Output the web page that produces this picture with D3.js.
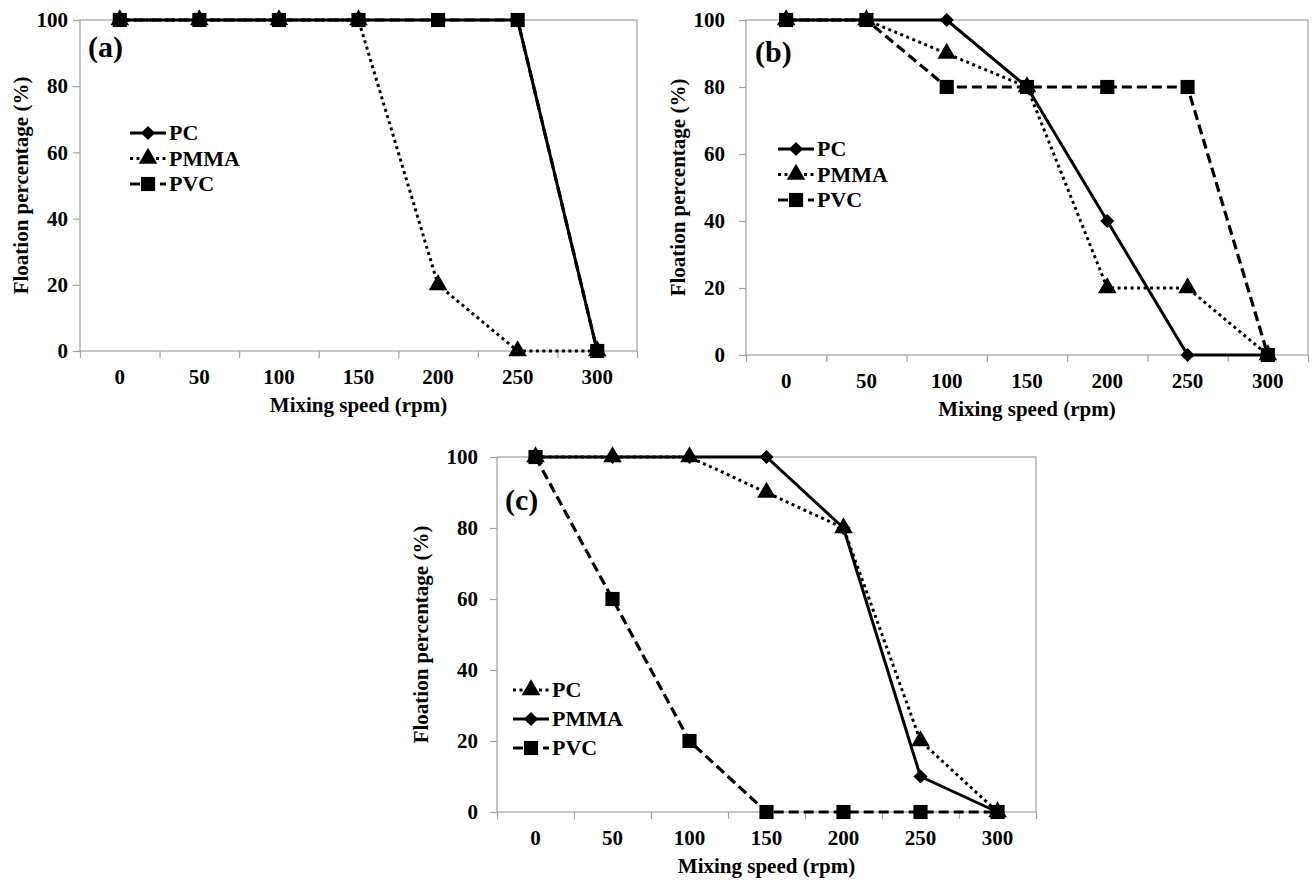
<!DOCTYPE html>
<html>
<head>
<meta charset="utf-8">
<script src="https://cdn.jsdelivr.net/npm/d3@7"></script>
<style>
  body { margin: 0; background: #fff; }
</style>
</head>
<body>
<div id="chart"></div>
<script>
// ---- data ----
const speeds = ["0", "50", "100", "150", "200", "250", "300"];
const yTickValues = [0, 20, 40, 60, 80, 100];

const aPC   = [100, 100, 100, 100, 100, 100, 0];
const aPMMA = [100, 100, 100, 100, 20, 0, 0];
const aPVC  = [100, 100, 100, 100, 100, 100, 0];

const bPC   = [100, 100, 100, 80, 40, 0, 0];
const bPMMA = [100, 100, 90, 80, 20, 20, 0];
const bPVC  = [100, 100, 80, 80, 80, 80, 0];

const cPC   = [100, 100, 100, 90, 80, 20, 0];
const cPMMA = [100, 100, 100, 100, 80, 10, 0];
const cPVC  = [100, 60, 20, 0, 0, 0, 0];

const xTitle = "Mixing speed (rpm)";
const yTitle = "Floation percentage (%)";

// ---- styles ----
const FONT = "'Liberation Serif', 'Times New Roman', serif";
const styles = {
  solid:  { dash: null,  width: 3, marker: "diamond" },
  dotted: { dash: "3,3.5", width: 3, marker: "triangle" },
  dashed: { dash: "10,5", width: 3.2, marker: "square" }
};

const W = 1314, H = 880;
const svg = d3.select("#chart").append("svg")
  .attr("width", W).attr("height", H)
  .attr("font-family", FONT);
svg.append("rect").attr("width", W).attr("height", H).attr("fill", "#fff");

const gridGray = "#a0a0a0";

function styleText(sel, size) {
  sel.style("font-family", FONT)
    .style("font-weight", "bold")
    .style("font-size", size + "px")
    .attr("fill", "#000");
}

function markerPath(type) {
  if (type === "square") return d3.symbol(d3.symbolSquare, 200)();
  if (type === "triangle") return d3.symbol(d3.symbolTriangle, 150)();
  return d3.symbol(d3.symbolSquare, 100)();
}

function addMarker(g, type, x, y) {
  g.append("path")
    .attr("d", markerPath(type))
    .attr("transform", type === "diamond"
      ? `translate(${x},${y}) rotate(45)`
      : `translate(${x},${y})`)
    .attr("fill", "#000");
}

function drawPanel(p) {
  const x = d3.scaleBand().domain(speeds).range([p.left, p.right]).padding(0);
  const xEdge = d3.scaleLinear().domain([0, speeds.length]).range([p.left, p.right]);
  const y = d3.scaleLinear().domain([0, 100]).range([p.bottom, p.top]);
  const cx = d => x(d) + x.bandwidth() / 2;

  const g = svg.append("g");

  // plot frame
  g.append("rect")
    .attr("x", p.left).attr("y", p.top)
    .attr("width", p.right - p.left).attr("height", p.bottom - p.top)
    .attr("fill", "none").attr("stroke", gridGray).attr("stroke-width", 1.2);

  // y axis
  const yAxis = g.append("g")
    .attr("transform", `translate(${p.left},0)`)
    .call(d3.axisLeft(y).tickValues(yTickValues).tickSize(7).tickPadding(p.yGap - 7));
  yAxis.attr("font-family", FONT);
  yAxis.select(".domain").remove();
  yAxis.selectAll("line").attr("stroke", gridGray).attr("stroke-width", 1.2);
  styleText(yAxis.selectAll("text"), 21);

  // x axis: ticks between categories, labels centred
  const xTicks = g.append("g")
    .attr("transform", `translate(0,${p.bottom})`)
    .call(d3.axisBottom(xEdge).tickValues(d3.range(speeds.length + 1)).tickSize(7).tickFormat(""));
  xTicks.select(".domain").remove();
  xTicks.selectAll("line").attr("stroke", gridGray).attr("stroke-width", 1.2);

  const xLabels = g.append("g")
    .attr("transform", `translate(0,${p.bottom})`)
    .call(d3.axisBottom(x).tickSize(0).tickPadding(18));
  xLabels.attr("font-family", FONT);
  xLabels.select(".domain").remove();
  styleText(xLabels.selectAll("text"), 21);

  // axis titles
  g.append("text")
    .attr("x", (p.left + p.right) / 2)
    .attr("y", p.bottom + 61)
    .attr("text-anchor", "middle")
    .call(styleText, 21)
    .text(xTitle);

  g.append("text")
    .attr("transform", `translate(${p.yTitleX},${(p.top + p.bottom) / 2}) rotate(-90)`)
    .attr("text-anchor", "middle")
    .call(styleText, 21)
    .text(yTitle);

  // panel label
  g.append("text")
    .attr("x", p.labelX).attr("y", p.labelY)
    .call(styleText, 30)
    .text(p.label);

  // series
  const line = d3.line().x((d, i) => cx(speeds[i])).y(d => y(d));
  p.series.forEach(s => {
    const st = styles[s.style];
    g.append("path")
      .datum(s.values)
      .attr("d", line)
      .attr("fill", "none")
      .attr("stroke", "#000")
      .attr("stroke-width", st.width)
      .attr("stroke-dasharray", st.dash);
    s.values.forEach((v, i) => addMarker(g, st.marker, cx(speeds[i]), y(v)));
  });

  // legend
  p.legend.forEach((s, i) => {
    const st = styles[s.style];
    const ly = p.legY + i * p.legStep;
    g.append("line")
      .attr("x1", p.legX).attr("x2", p.legX + 36)
      .attr("y1", ly).attr("y2", ly)
      .attr("stroke", "#000")
      .attr("stroke-width", st.width)
      .attr("stroke-dasharray", st.dash);
    addMarker(g, st.marker, p.legX + 18, ly);
    g.append("text")
      .attr("x", p.legX + 39).attr("y", ly + 7)
      .call(styleText, 22)
      .text(s.name);
  });
}

drawPanel({
  label: "(a)", labelX: 88, labelY: 57,
  left: 80, right: 637, top: 20, bottom: 351, yGap: 12, yTitleX: 28,
  legX: 130, legY: 133, legStep: 25.5,
  series: [
    { name: "PC", values: aPC, style: "solid" },
    { name: "PMMA", values: aPMMA, style: "dotted" },
    { name: "PVC", values: aPVC, style: "dashed" }
  ],
  legend: [
    { name: "PC", style: "solid" },
    { name: "PMMA", style: "dotted" },
    { name: "PVC", style: "dashed" }
  ]
});

drawPanel({
  label: "(b)", labelX: 755, labelY: 62,
  left: 746, right: 1308, top: 20, bottom: 355, yGap: 21, yTitleX: 685,
  legX: 778, legY: 149, legStep: 25.5,
  series: [
    { name: "PC", values: bPC, style: "solid" },
    { name: "PMMA", values: bPMMA, style: "dotted" },
    { name: "PVC", values: bPVC, style: "dashed" }
  ],
  legend: [
    { name: "PC", style: "solid" },
    { name: "PMMA", style: "dotted" },
    { name: "PVC", style: "dashed" }
  ]
});

drawPanel({
  label: "(c)", labelX: 505, labelY: 510,
  left: 497, right: 1036, top: 457, bottom: 812, yGap: 19, yTitleX: 428,
  legX: 513, legY: 690, legStep: 29,
  series: [
    { name: "PMMA", values: cPMMA, style: "solid" },
    { name: "PC", values: cPC, style: "dotted" },
    { name: "PVC", values: cPVC, style: "dashed" }
  ],
  legend: [
    { name: "PC", style: "dotted" },
    { name: "PMMA", style: "solid" },
    { name: "PVC", style: "dashed" }
  ]
});
</script>
</body>
</html>
